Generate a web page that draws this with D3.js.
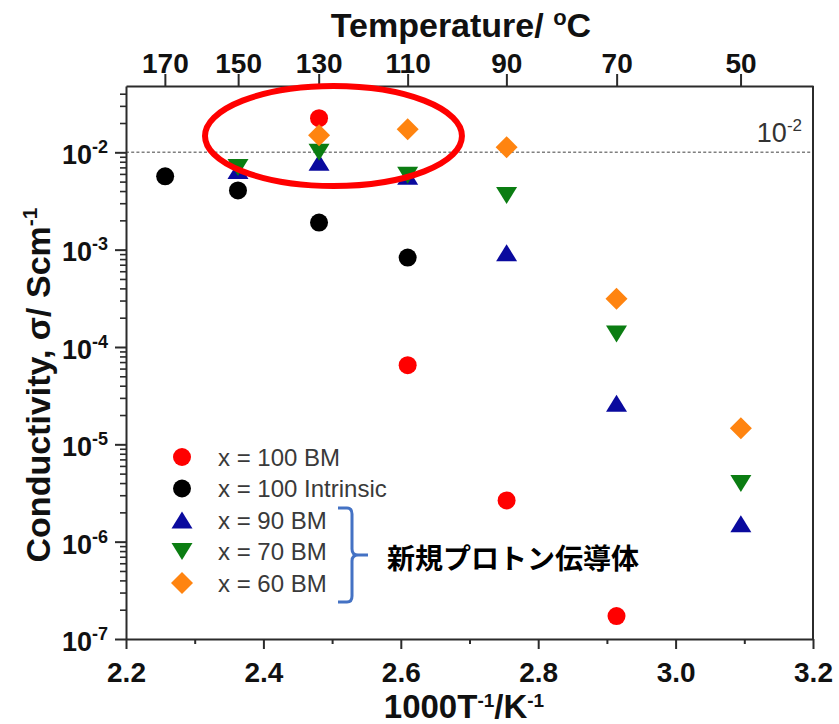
<!DOCTYPE html>
<html>
<head>
<meta charset="utf-8">
<script src="https://cdn.jsdelivr.net/npm/d3@7"></script>
<style>
  body { margin: 0; background: #fff; }
  svg { display: block; font-family: "Liberation Sans", Arial, sans-serif; }
</style>
</head>
<body>
<div id="container"></div>
<script>
/* CONSTANTS AND GLOBALS */
const width = 839,
  height = 724,
  margin = { top: 86, right: 26, bottom: 85, left: 126 }

/* DATA */
// 1000/T positions of the measurements (170, 150, 130, 110, 90, 70, 50 C)
const invT = [2.257, 2.363, 2.481, 2.610, 2.754, 2.914, 3.095]
const tempTicks = [170, 150, 130, 110, 90, 70, 50]
const xTicks = [2.2, 2.4, 2.6, 2.8, 3.0, 3.2]
const xMinorTicks = [2.3, 2.5, 2.7, 2.9, 3.1]
const decades = [-7, -6, -5, -4, -3, -2]

// conductivity, S/cm (null = no point)
const bm100 = [null, null, 2.24e-2, 6.5e-5, 2.65e-6, 1.72e-7, null]
const intrinsic100 = [5.66e-3, 4.06e-3, 1.9e-3, 8.3e-4, null, null, null]
const bm90 = [null, 6.5e-3, 7.9e-3, 5.66e-3, 9.3e-4, 2.65e-5, 1.53e-6]
const bm70 = [null, 7.0e-3, 1.0e-2, 5.8e-3, 3.6e-3, 1.36e-4, 3.96e-6]
const bm60 = [null, null, 1.5e-2, 1.73e-2, 1.13e-2, 3.13e-4, 1.46e-5]

const seriesNames = ["x = 100 BM", "x = 100 Intrinsic", "x = 90 BM", "x = 70 BM", "x = 60 BM"]
const seriesColors = ["#ff0000", "#000000", "#0a0a9e", "#0b7d12", "#ff8410"]
const seriesShapes = ["circle", "circle", "up", "down", "diamond"]
const seriesValues = [bm100, intrinsic100, bm90, bm70, bm60]

const series = seriesNames.map((name, i) => ({
  name, color: seriesColors[i], shape: seriesShapes[i], values: seriesValues[i]
}))

/* SCALES */
const xScale = d3.scaleLinear()
  .domain([2.2, 3.2])
  .range([margin.left, width - margin.right])

const yScale = d3.scaleLog()
  .domain([1e-7, 0.048])
  .range([height - margin.bottom, margin.top])

// marker shapes, centred on their bounding box
function shapePath(shape) {
  if (shape === "circle") return d3.symbol(d3.symbolCircle, Math.PI * 81)()
  if (shape === "up") return "M0,-8.5L10.5,8.5L-10.5,8.5Z"
  if (shape === "down") return "M0,8.5L10.5,-8.5L-10.5,-8.5Z"
  return "M0,-11L11,0L0,11L-11,0Z"
}

/* HTML ELEMENTS */
const svg = d3.select("#container")
  .append("svg")
  .attr("width", width)
  .attr("height", height)

const axisColor = "#2b2b2b"

// dotted 10^-2 reference line
svg.append("line")
  .attr("x1", xScale(2.2))
  .attr("x2", xScale(3.2))
  .attr("y1", yScale(1e-2))
  .attr("y2", yScale(1e-2))
  .attr("stroke", "#808080")
  .attr("stroke-width", 1.6)
  .attr("stroke-dasharray", "3,2.2")

svg.append("text")
  .attr("x", 802)
  .attr("y", yScale(1e-2) - 10)
  .attr("text-anchor", "end")
  .attr("font-size", 27)
  .attr("fill", "#333")
  .call(t => {
    t.append("tspan").text("10")
    t.append("tspan").attr("dy", -11).attr("font-size", 17).text("-2")
  })

// bottom axis
const xAxis = d3.axisBottom(xScale)
  .tickValues(xTicks)
  .tickFormat(d3.format(".1f"))
  .tickSize(10)
  .tickSizeOuter(0)
  .tickPadding(13)

svg.append("g")
  .attr("transform", `translate(0,${height - margin.bottom})`)
  .call(xAxis)
  .call(g => g.selectAll("text").attr("font-size", 28).attr("font-weight", "bold").attr("fill", "#111"))
  .call(g => g.selectAll("line, path").attr("stroke", axisColor).attr("stroke-width", 2))

svg.append("g")
  .attr("transform", `translate(0,${height - margin.bottom})`)
  .call(d3.axisBottom(xScale).tickValues(xMinorTicks).tickSize(5).tickSizeOuter(0).tickFormat(""))
  .call(g => g.select("path").remove())
  .call(g => g.selectAll("line").attr("stroke", axisColor).attr("stroke-width", 2))

// top axis: temperature in C placed at 1000/T
const topAxis = d3.axisTop(xScale)
  .tickValues(tempTicks.map(t => 1000 / (t + 273.15)))
  .tickFormat((d, i) => tempTicks[i])
  .tickSize(12)
  .tickSizeOuter(0)
  .tickPadding(1)

svg.append("g")
  .attr("transform", `translate(0,${margin.top})`)
  .call(topAxis)
  .call(g => g.selectAll("text").attr("font-size", 28).attr("font-weight", "bold").attr("fill", "#111"))
  .call(g => g.selectAll("line, path").attr("stroke", axisColor).attr("stroke-width", 2))

// left axis, log decades
const yAxis = d3.axisLeft(yScale)
  .tickValues(decades.map(p => Math.pow(10, p)))
  .tickSize(11)
  .tickSizeOuter(0)
  .tickPadding(7)
  .tickFormat("")

svg.append("g")
  .attr("transform", `translate(${margin.left},0)`)
  .call(yAxis)
  .call(g => g.selectAll("line, path").attr("stroke", axisColor).attr("stroke-width", 2))
  .call(g => g.selectAll("text")
    .attr("dy", "0.42em")
    .attr("font-size", 27)
    .attr("font-weight", "bold")
    .attr("fill", "#111")
    .each(function(d) {
      const t = d3.select(this)
      t.append("tspan").text("10")
      t.append("tspan").attr("dy", -11).attr("font-size", 18).text(Math.round(Math.log10(d)))
    }))

const minorY = []
decades.forEach(p => d3.range(2, 10).forEach(m => {
  const v = m * Math.pow(10, p)
  if (v <= yScale.domain()[1]) minorY.push(v)
}))

svg.append("g")
  .attr("transform", `translate(${margin.left},0)`)
  .call(d3.axisLeft(yScale).tickValues(minorY).tickSize(6).tickSizeOuter(0).tickFormat(""))
  .call(g => g.select("path").remove())
  .call(g => g.selectAll("line").attr("stroke", axisColor).attr("stroke-width", 1.6))

// right frame
svg.append("line")
  .attr("x1", width - margin.right)
  .attr("x2", width - margin.right)
  .attr("y1", margin.top)
  .attr("y2", height - margin.bottom)
  .attr("stroke", axisColor)
  .attr("stroke-width", 2)

// axis titles
svg.append("text")
  .attr("x", 461)
  .attr("y", 37)
  .attr("text-anchor", "middle")
  .attr("font-size", 34)
  .attr("font-weight", "bold")
  .attr("fill", "#111")
  .call(t => {
    t.append("tspan").text("Temperature/ ")
    t.append("tspan").attr("dy", -12).attr("font-size", 22).text("o")
    t.append("tspan").attr("dy", 12).text("C")
  })

svg.append("text")
  .attr("x", 464)
  .attr("y", 718)
  .attr("text-anchor", "middle")
  .attr("font-size", 33)
  .attr("font-weight", "bold")
  .attr("fill", "#111")
  .call(t => {
    t.append("tspan").text("1000T")
    t.append("tspan").attr("dy", -11).attr("font-size", 19).text("-1")
    t.append("tspan").attr("dy", 11).text("/K")
    t.append("tspan").attr("dy", -11).attr("font-size", 19).text("-1")
  })

svg.append("text")
  .attr("transform", "translate(50,385) rotate(-90)")
  .attr("text-anchor", "middle")
  .attr("font-size", 34)
  .attr("font-weight", "bold")
  .attr("fill", "#111")
  .call(t => {
    t.append("tspan").text("Conductivity, σ/ Scm")
    t.append("tspan").attr("dy", -13).attr("font-size", 21).text("-1")
  })

// points
series.forEach(s => {
  svg.append("g")
    .selectAll("path")
    .data(s.values.map((v, i) => ({ x: invT[i], v })).filter(d => d.v != null))
    .join("path")
    .attr("d", shapePath(s.shape))
    .attr("transform", d => `translate(${xScale(d.x)},${yScale(d.v)})`)
    .attr("fill", s.color)
})

// highlight ellipse
svg.append("ellipse")
  .attr("cx", xScale(2.502))
  .attr("cy", yScale(0.0147))
  .attr("rx", xScale(2.502) - xScale(2.315))
  .attr("ry", 50)
  .attr("fill", "none")
  .attr("stroke", "#ff0000")
  .attr("stroke-width", 6)

// legend
const legend = svg.append("g")
  .selectAll("g")
  .data(series)
  .join("g")
  .attr("transform", (d, i) => `translate(182,${457 + i * 31.5})`)

legend.append("path")
  .attr("d", d => shapePath(d.shape))
  .attr("fill", d => d.color)

legend.append("text")
  .attr("x", 36)
  .attr("dy", "0.36em")
  .attr("font-size", 24)
  .attr("fill", "#3a3a3a")
  .text(d => d.name)

// bracket for the new conductors
svg.append("path")
  .attr("d", "M338,508 L347,508 Q352,508 352,514 L352,549 Q352,555 358,555 L368,555 M358,555 Q352,555 352,561 L352,596 Q352,602 347,602 L338,602")
  .attr("fill", "none")
  .attr("stroke", "#4472c4")
  .attr("stroke-width", 3)

svg.append("text")
  .attr("x", 387)
  .attr("y", 557)
  .attr("dominant-baseline", "central")
  .attr("font-family", "'Noto Sans CJK JP', sans-serif")
  .attr("font-size", 28)
  .attr("font-weight", "bold")
  .attr("fill", "#000")
  .text("新規プロトン伝導体")
</script>
</body>
</html>
